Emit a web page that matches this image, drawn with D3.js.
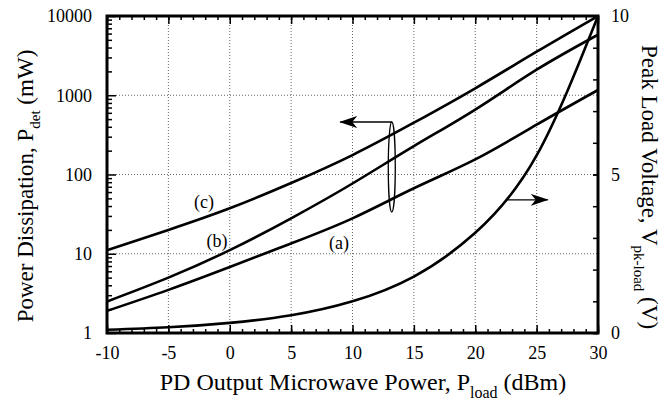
<!DOCTYPE html>
<html>
<head>
<meta charset="utf-8">
<script src="https://cdn.jsdelivr.net/npm/d3@7"></script>
<style>
  body { margin: 0; background: #fff; }
  svg { display: block; font-family: "Liberation Serif", "DejaVu Serif", serif; }
</style>
</head>
<body>
<svg id="chart" width="662" height="403"></svg>
<script>
// ---- data ----
const xPower = [-10, -5, 0, 5, 10, 15, 20, 25, 30];             // dBm
const curveA = [1.9, 3.5, 6.8, 13.5, 28, 67, 155, 425, 1165];    // mW
const curveB = [2.5, 5, 11.1, 28, 77, 228, 660, 2100, 5800];     // mW
const curveC = [11.1, 20, 37.5, 78, 176, 450, 1224, 3545, 10000]; // mW
const voltage = [0.1, 0.18, 0.32, 0.56, 1.0, 1.78, 3.16, 5.6, 10]; // V
const xTicks = [-10, -5, 0, 5, 10, 15, 20, 25, 30];
const yTicks = [1, 10, 100, 1000, 10000];
const vTicks = [0, 5, 10];

(function () {
const svg = d3.select("#chart");
const m = { l: 107, r: 598, t: 16, b: 333 };

const x = d3.scaleLinear().domain([-10, 30]).range([m.l, m.r]);
const y = d3.scaleLog().domain([1, 10000]).range([m.b, m.t]);
const yv = d3.scaleLinear().domain([0, 10]).range([m.b, m.t]);
const fmt = d => String(d);

// grid
const grid = svg.append("g").attr("stroke", "#666").attr("stroke-width", 1).attr("stroke-dasharray", "1,2");
xTicks.slice(1, -1).forEach(v => grid.append("line").attr("x1", x(v)).attr("x2", x(v)).attr("y1", m.t).attr("y2", m.b));
yTicks.slice(1, -1).forEach(v => grid.append("line").attr("x1", m.l).attr("x2", m.r).attr("y1", y(v)).attr("y2", y(v)));

// axes with inward ticks
const minorX = d3.range(-10, 31, 1);
const minorY = [];
for (let d = 1; d < 10000; d *= 10) for (let k = 2; k <= 9; k++) minorY.push(d * k);
const minorV = d3.range(0, 11, 1);

const gBottom = svg.append("g").attr("transform", `translate(0,${m.b})`);
gBottom.call(d3.axisBottom(x).tickValues(minorX).tickSize(-4).tickFormat(""));
gBottom.append("g").call(d3.axisBottom(x).tickValues(xTicks).tickSize(-8).tickPadding(13).tickFormat(fmt));
const gTop = svg.append("g").attr("transform", `translate(0,${m.t})`);
gTop.call(d3.axisTop(x).tickValues(minorX).tickSize(-4).tickFormat(""));
gTop.append("g").call(d3.axisTop(x).tickValues(xTicks).tickSize(-8).tickFormat(""));
const gLeft = svg.append("g").attr("transform", `translate(${m.l},0)`);
gLeft.call(d3.axisLeft(y).tickValues(minorY).tickSize(-5).tickFormat(""));
gLeft.append("g").call(d3.axisLeft(y).tickValues(yTicks).tickSize(-9).tickPadding(15).tickFormat(fmt));
const gRight = svg.append("g").attr("transform", `translate(${m.r},0)`);
gRight.call(d3.axisRight(yv).tickValues(minorV).tickSize(-5).tickFormat(""));
gRight.append("g").call(d3.axisRight(yv).tickValues(vTicks).tickSize(-5).tickPadding(13).tickFormat(fmt));

svg.selectAll(".domain").remove();
svg.selectAll(".tick line").attr("stroke", "#000").attr("stroke-width", 1.5);
svg.selectAll(".tick text").attr("font-size", 18).attr("fill", "#000").attr("font-family", "Liberation Serif, serif");

// frame
svg.append("rect").attr("x", m.l).attr("y", m.t).attr("width", m.r - m.l).attr("height", m.b - m.t)
  .attr("fill", "none").attr("stroke", "#000").attr("stroke-width", 3);

// curves
const lineP = d3.line().x((d, i) => x(xPower[i])).y(d => y(d)).curve(d3.curveNatural);
const lineV = d3.line().x((d, i) => x(xPower[i])).y(d => yv(d)).curve(d3.curveNatural);
[curveA, curveB, curveC].forEach(c => svg.append("path").attr("d", lineP(c)).attr("fill", "none").attr("stroke", "#000").attr("stroke-width", 2.6));
svg.append("path").attr("d", lineV(voltage)).attr("fill", "none").attr("stroke", "#000").attr("stroke-width", 2.6);

// curve labels
const lab = svg.append("g").attr("font-size", 18).attr("text-anchor", "middle");
lab.append("text").attr("x", 204).attr("y", 208).text("(c)");
lab.append("text").attr("x", 217).attr("y", 247).text("(b)");
lab.append("text").attr("x", 339).attr("y", 249).text("(a)");

// arrows
const defs = svg.append("defs");
defs.append("marker").attr("id", "ah").attr("viewBox", "0 0 18 12").attr("refX", 17).attr("refY", 6)
  .attr("markerWidth", 18).attr("markerHeight", 12).attr("markerUnits", "userSpaceOnUse").attr("orient", "auto")
  .append("path").attr("d", "M0,0 L18,6 L0,12 L5,6 Z").attr("fill", "#000");

const ex = x(13.2), ecy = 167;
svg.append("ellipse").attr("cx", ex).attr("cy", ecy).attr("rx", 3.5).attr("ry", 45)
  .attr("fill", "none").attr("stroke", "#000").attr("stroke-width", 1.3);
svg.append("line").attr("x1", ex).attr("y1", ecy - 45).attr("x2", x(9.0)).attr("y2", ecy - 45)
  .attr("stroke", "#000").attr("stroke-width", 1.3).attr("marker-end", "url(#ah)");
svg.append("line").attr("x1", x(22.6)).attr("y1", yv(4.2)).attr("x2", x(25.9)).attr("y2", yv(4.2))
  .attr("stroke", "#000").attr("stroke-width", 1.3).attr("marker-end", "url(#ah)");

// axis titles
const xt = svg.append("text").attr("x", 363).attr("y", 390).attr("text-anchor", "middle").attr("font-size", 24);
xt.append("tspan").text("PD Output Microwave Power, P");
xt.append("tspan").attr("font-size", 16).attr("dy", 8).text("load");
xt.append("tspan").attr("dy", -8).text(" (dBm)");

const yt = svg.append("text").attr("transform", "translate(33,186) rotate(-90)").attr("text-anchor", "middle").attr("font-size", 23);
yt.append("tspan").text("Power Dissipation, P");
yt.append("tspan").attr("font-size", 15).attr("dy", 7).text("det");
yt.append("tspan").attr("dy", -7).text(" (mW)");

const rt = svg.append("text").attr("transform", "translate(642,187) rotate(90)").attr("text-anchor", "middle").attr("font-size", 23);
rt.append("tspan").text("Peak Load Voltage, V");
rt.append("tspan").attr("font-size", 15).attr("dy", 8).text("pk-load");
rt.append("tspan").attr("dy", -8).text(" (V)");
})();
</script>
</body>
</html>
